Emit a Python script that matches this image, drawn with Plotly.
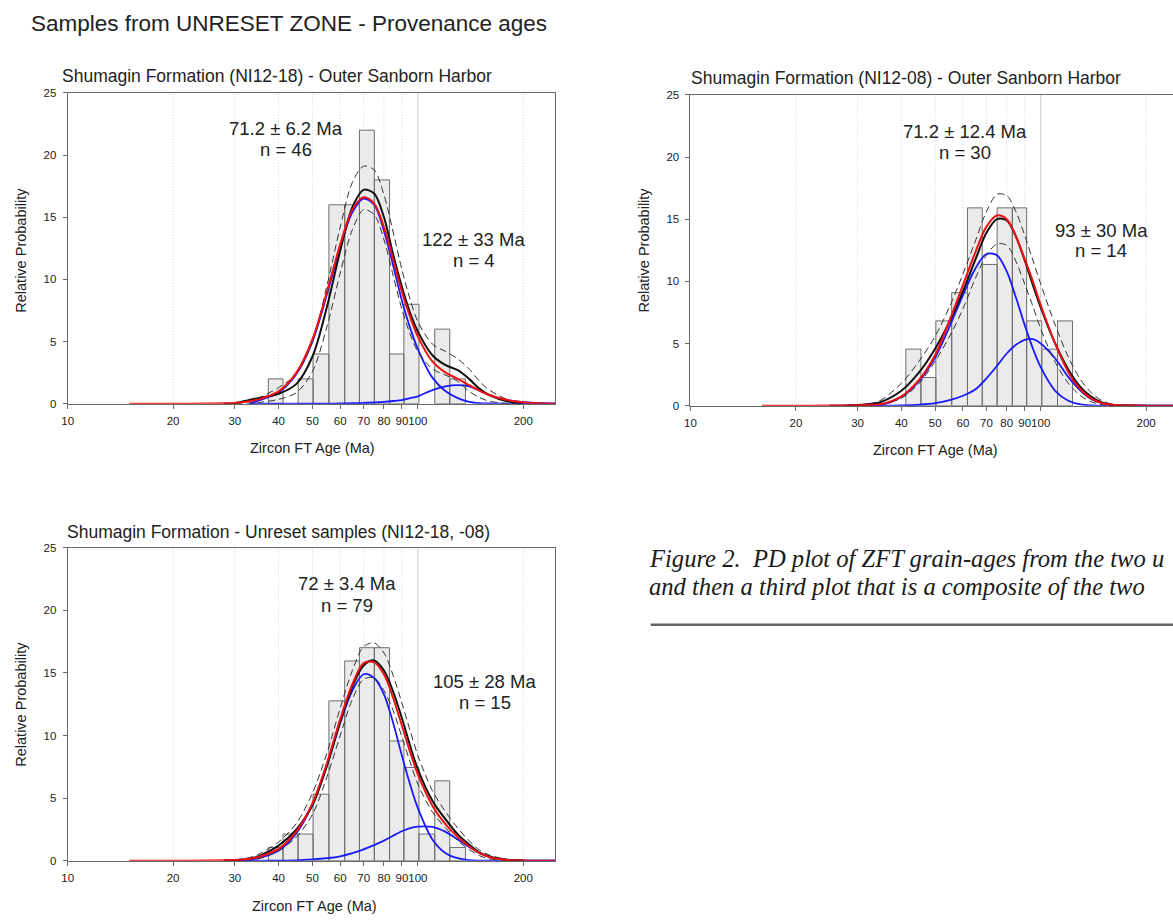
import plotly.graph_objects as go

W, H = 1173, 920

# ---------------- data ----------------
tick_vals = [10, 20, 30, 40, 50, 60, 70, 80, 90, 100, 200]
tick_text = ["10", "20", "30", "40", "50", "60", "70", "80", "90", "100", "200"]
grid_dotted = [20, 30, 40, 50, 60, 70, 80, 90, 200]
grid_solid = [100]

bin_edges = [37.4, 41.2, 45.5, 50.2, 55.7, 61.8, 68.1, 75.1, 83.0, 91.2, 100.7, 111.7, 123.3, 136.7]
hist_ni1218 = [2, 0, 2, 4, 16, 16, 22, 18, 4, 8, 0, 6, 2]
hist_ni1208 = [0, 4.55, 2.27, 6.82, 9.09, 15.91, 11.36, 15.91, 15.91, 6.82, 4.55, 6.82, 0]
hist_all = [1.06, 2.13, 2.13, 5.32, 12.77, 15.96, 17.02, 17.02, 9.57, 7.45, 2.13, 6.38, 1.06]

ages_a = [15, 20, 25, 28, 30, 33, 35, 40, 45, 50, 55, 60, 65, 70, 75, 80, 85, 90, 95, 100,
          110, 120, 130, 140, 150, 160, 180, 200, 220, 260]
ages_b = [16, 20, 25, 28, 30, 33, 35, 40, 45, 50, 55, 60, 65, 70, 75, 80, 85, 90, 95, 100,
          110, 120, 130, 140, 150, 160, 180, 200, 220, 260]

# Panel 1: NI12-18
red_1 = [0, 0, 0.01, 0.03, 0.06, 0.2, 0.35, 1.0, 2.5, 5.2, 9.0, 12.8, 15.6, 16.6, 16.1, 14.2, 11.6, 9.0,
         7.0, 5.4, 3.4, 2.5, 2.0, 1.5, 1.05, 0.7, 0.3, 0.12, 0.04, 0]
blue1_1 = [None, None, None, None, None, 0, 0.25, 0.9, 2.4, 5.0, 8.8, 12.6, 15.4, 16.5, 16.0, 13.9, 11.1,
           8.3, 6.1, 4.4, 2.1, 1.0, 0.45, 0.15, 0.05, 0.02, 0, 0, 0, 0]
blue2_1 = [None, None, None, None, None, 0, 0, 0, 0, 0.01, 0.01, 0.02, 0.04, 0.07, 0.1, 0.15, 0.22, 0.3,
           0.45, 0.6, 1.1, 1.4, 1.5, 1.4, 1.05, 0.7, 0.3, 0.12, 0.04, 0]
black_1 = [None, None, None, 0, 0.05, 0.3, 0.45, 0.8, 1.6, 3.8, 7.8, 12.3, 15.8, 17.2, 16.9, 15.0, 12.0,
           9.4, 7.3, 5.8, 3.9, 3.1, 2.7, 2.0, 1.2, 0.7, 0.2, 0.03, None, None]
upper_1 = [None, None, None, 0, 0.05, 0.2, 0.45, 1.3, 2.4, 5.0, 9.5, 14.2, 17.8, 19.1, 18.8, 16.8, 13.8,
           10.8, 8.4, 6.6, 4.8, 4.2, 3.6, 2.8, 1.8, 1.1, 0.35, 0.08, None, None]
lower_1 = [None, None, None, 0, 0.01, 0.05, 0.1, 0.35, 0.9, 2.6, 6.2, 10.5, 14.0, 15.6, 15.2, 13.2, 10.3,
           7.6, 5.6, 4.2, 2.8, 2.3, 1.8, 1.0, 0.5, 0.2, 0.03, 0, None, None]

# Panel 2: NI12-08
red_2 = [0, 0, 0.01, 0.02, 0.04, 0.08, 0.12, 0.75, 2.1, 4.1, 6.9, 9.7, 12.3, 14.4, 15.3, 15.0, 13.6, 11.8,
         10.0, 8.1, 5.0, 2.7, 1.3, 0.55, 0.2, 0.07, 0.01, 0, 0, 0]
blue1_2 = [None, None, None, 0, 0, 0.02, 0.06, 0.7, 2.0, 3.9, 6.4, 8.9, 11.0, 12.2, 12.1, 10.8, 8.7, 6.5,
           4.6, 3.1, 1.2, 0.4, 0.1, 0.02, 0, 0, 0, 0, 0, 0]
blue2_2 = [None, None, None, 0, 0, 0, 0, 0.02, 0.08, 0.2, 0.45, 0.8, 1.3, 2.2, 3.2, 4.2, 4.9, 5.3,
           5.35, 5.0, 3.8, 2.3, 1.2, 0.5, 0.2, 0.07, 0.01, 0, 0, 0]
black_2 = [None, None, 0, 0.02, 0.05, 0.15, 0.3, 1.2, 2.7, 4.6, 6.8, 9.2, 11.7, 13.9, 15.0, 14.9, 13.6,
           11.7, 9.7, 7.9, 5.0, 2.9, 1.5, 0.7, 0.25, 0.08, 0.01, 0, None, None]
upper_2 = [None, None, None, 0, 0.04, 0.2, 0.45, 1.8, 3.6, 5.6, 8.0, 10.6, 13.2, 15.6, 17.0, 16.9, 15.6,
           13.7, 11.7, 9.8, 6.5, 3.9, 2.1, 1.0, 0.4, 0.12, 0, None, None, None]
lower_2 = [None, None, None, 0, 0.01, 0.03, 0.1, 0.6, 1.8, 3.6, 5.6, 7.8, 10.2, 12.1, 13.0, 12.9, 11.6,
           9.8, 8.0, 6.2, 3.5, 1.8, 0.8, 0.3, 0.08, 0.02, 0, None, None, None]

# Panel 3: composite
red_3 = [0, 0, 0.01, 0.03, 0.05, 0.15, 0.3, 0.95, 2.35, 4.6, 7.8, 11.3, 14.1, 15.8, 15.85, 14.9, 13.0, 10.8,
         8.7, 6.9, 4.4, 2.9, 1.9, 1.15, 0.6, 0.3, 0.06, 0.01, 0, 0]
blue1_3 = [None, None, None, 0, 0, 0.08, 0.2, 0.8, 2.2, 4.5, 7.6, 11.0, 13.6, 14.9, 14.6, 13.3, 11.0, 8.4,
           6.1, 4.2, 1.7, 0.6, 0.2, 0.05, 0.01, 0, 0, 0, 0, 0]
blue2_3 = [None, None, None, 0, 0, 0, 0, 0.01, 0.03, 0.1, 0.2, 0.35, 0.6, 0.9, 1.25, 1.6, 2.0, 2.35,
           2.6, 2.72, 2.7, 2.3, 1.7, 1.1, 0.6, 0.3, 0.06, 0.01, 0, 0]
black_3 = [None, None, None, 0, 0.03, 0.15, 0.35, 1.2, 2.5, 4.45, 7.6, 11.1, 13.9, 15.6, 16.0, 15.2, 13.5,
           11.4, 9.2, 7.3, 4.8, 3.3, 2.1, 1.3, 0.65, 0.34, 0.08, 0.01, None, None]
upper_3 = [None, None, None, 0, 0.05, 0.25, 0.5, 1.5, 3.0, 5.4, 8.6, 12.2, 15.2, 17.1, 17.4, 16.6, 14.8,
           12.6, 10.4, 8.4, 5.6, 3.9, 2.6, 1.6, 0.85, 0.45, 0.1, 0.02, None, None]
lower_3 = [None, None, None, 0, 0.01, 0.05, 0.15, 0.8, 1.9, 3.7, 6.7, 10.0, 12.9, 14.5, 14.6, 13.6, 12.0,
           9.9, 7.9, 6.1, 3.9, 2.6, 1.6, 0.9, 0.4, 0.15, 0.02, 0, None, None]

main_title = "Samples from UNRESET ZONE - Provenance ages"
titles = ["Shumagin Formation (NI12-18) - Outer Sanborn Harbor",
          "Shumagin Formation (NI12-08) - Outer Sanborn Harbor",
          "Shumagin Formation - Unreset samples (NI12-18, -08)"]
peak_labels = [["71.2 ± 6.2 Ma", "n = 46", "122 ± 33 Ma", "n = 4"],
               ["71.2 ± 12.4 Ma", "n = 30", "93 ± 30 Ma", "n = 14"],
               ["72 ± 3.4 Ma", "n = 79", "105 ± 28 Ma", "n = 15"]]
caption_lines = ["<i>Figure 2.  PD plot of ZFT grain-ages from the two u</i>",
                 "<i>and then a third plot that is a composite of the two</i>"]

# ---------------- helpers ----------------
def px(x):
    return x / W


def py(y):
    return 1 - y / H


FONT = "Arial, Liberation Sans, sans-serif"
SERIF = "Liberation Serif, DejaVu Serif, serif"
AX_COL = "#6a6a6a"
BAR_FILL = "#ebebeb"
BAR_LINE = "#6e6e6e"

fig = go.Figure()

panels = [
    dict(ages=ages_a, hist=hist_ni1218, red=red_1, b1=blue1_1, b2=blue2_1, blk=black_1, up=upper_1, lo=lower_1),
    dict(ages=ages_b, hist=hist_ni1208, red=red_2, b1=blue1_2, b2=blue2_2, blk=black_2, up=upper_2, lo=lower_2),
    dict(ages=ages_a, hist=hist_all, red=red_3, b1=blue1_3, b2=blue2_3, blk=black_3, up=upper_3, lo=lower_3),
]

for i, p in enumerate(panels):
    xa = "x" if i == 0 else f"x{i+1}"
    ya = "y" if i == 0 else f"y{i+1}"
    gx, gy = [], []
    for v in grid_dotted:
        gx += [v, v, None]
        gy += [0, 25, None]
    fig.add_trace(go.Scatter(x=gx, y=gy, mode="lines", xaxis=xa, yaxis=ya,
                             line=dict(color="#d2d2d2", width=1, dash="1px,2px"),
                             hoverinfo="skip", showlegend=False))
    sx, sy = [], []
    for v in grid_solid:
        sx += [v, v, None]
        sy += [0, 25, None]
    fig.add_trace(go.Scatter(x=sx, y=sy, mode="lines", xaxis=xa, yaxis=ya,
                             line=dict(color="#cccccc", width=1),
                             hoverinfo="skip", showlegend=False))
    bx, by = [], []
    for k, h in enumerate(p["hist"]):
        if h <= 0:
            continue
        x0, x1 = bin_edges[k], bin_edges[k + 1]
        bx += [x0, x0, x1, x1, x0, None]
        by += [0, h, h, 0, 0, None]
    fig.add_trace(go.Scatter(x=bx, y=by, mode="lines", fill="toself", fillcolor=BAR_FILL,
                             line=dict(color=BAR_LINE, width=1), xaxis=xa, yaxis=ya,
                             hoverinfo="skip", showlegend=False))
    ln = dict(shape="spline", smoothing=0.9)
    for key in ("b1", "b2"):
        fig.add_trace(go.Scatter(x=p["ages"], y=p[key], mode="lines", xaxis=xa, yaxis=ya,
                                 line=dict(color="#1a1aff", width=1.8, **ln), showlegend=False))
    for key in ("up", "lo"):
        fig.add_trace(go.Scatter(x=p["ages"], y=p[key], mode="lines", xaxis=xa, yaxis=ya,
                                 line=dict(color="#333333", width=1, dash="7px,4px", **ln), showlegend=False))
    fig.add_trace(go.Scatter(x=p["ages"], y=p["blk"], mode="lines", xaxis=xa, yaxis=ya,
                             line=dict(color="#111111", width=2, **ln), showlegend=False))
    fig.add_trace(go.Scatter(x=p["ages"], y=p["red"], mode="lines", xaxis=xa, yaxis=ya,
                             line=dict(color="#f01010", width=2, **ln), showlegend=False))

# ---------------- axes ----------------
geom = [  # left, right, top, bottom (pixels), log x max, mirror y
    (62, 552, 88, 403, 2.392, True),
    (688, 1173, 90, 405, 1 + (1173 - 688) / 352.0, False),
    (62, 552, 549, 866, 2.392, True),
]
layout_axes = {}
for i, (l, r, t, b, xmax, mir) in enumerate(geom):
    sfx = "" if i == 0 else str(i + 1)
    layout_axes["xaxis" + sfx] = dict(
        type="log", range=[1, xmax], domain=[px(l), px(r)], anchor="y" + sfx,
        tickvals=tick_vals, ticktext=tick_text, tickangle=0, ticks="outside", ticklen=4, tickwidth=1,
        tickcolor=AX_COL, showline=True, linecolor=AX_COL, linewidth=1, mirror=True,
        showgrid=False, zeroline=False, tickfont=dict(family=FONT, size=11.5, color="#222"),
        ticklabelstandoff=2)
    layout_axes["yaxis" + sfx] = dict(
        range=[0, 25], domain=[py(b), py(t)], anchor="x" + sfx,
        tickvals=[0, 5, 10, 15, 20, 25], ticks="outside", ticklen=4, tickwidth=1,
        tickcolor=AX_COL, showline=True, linecolor=AX_COL, linewidth=1, mirror=mir,
        showgrid=False, zeroline=False, tickfont=dict(family=FONT, size=11.5, color="#222"),
        ticklabelstandoff=4)

fig.update_layout(width=W, height=H, margin=dict(l=0, r=0, t=0, b=0),
                  paper_bgcolor="white", plot_bgcolor="white", **layout_axes)

ann = []


def add_text(x, y, text, size, xanchor="left", yanchor="middle", angle=0, color="#222", family=FONT):
    ann.append(dict(x=px(x), y=py(y), xref="paper", yref="paper", text=text, showarrow=False,
                    xanchor=xanchor, yanchor=yanchor, textangle=angle,
                    font=dict(family=family, size=size, color=color)))


add_text(23, 18, main_title, 22.5)
title_pos = [(54, 71), (687, 73), (59, 533)]
for (x, y), t in zip(title_pos, titles):
    add_text(x, y, t, 17.5)
for x, y in [(15, 247), (641, 247), (15, 707)]:
    add_text(x, y, "Relative Probability", 14.5, xanchor="center", angle=-90)
for x, y in [(308, 448), (934, 450), (310, 912)]:
    add_text(x, y, "Zircon FT Age (Ma)", 14.5, xanchor="center")
label_pos = [[(281, 124), (281, 145), (470, 237), (470, 258)],
             [(964, 127), (964, 148), (1101, 227), (1101, 248)],
             [(343, 585), (343, 607), (481, 684), (481, 706)]]
for pos, texts in zip(label_pos, peak_labels):
    for (x, y), t in zip(pos, texts):
        add_text(x, y, t, 18.5, xanchor="center")

add_text(644, 560, caption_lines[0], 24.6, family=SERIF, color="#1a1a1a")
add_text(644, 588, caption_lines[1], 24.6, family=SERIF, color="#1a1a1a")

fig.update_layout(annotations=ann,
                  shapes=[dict(type="line", xref="paper", yref="paper", x0=px(648), x1=1.0,
                               y0=py(627), y1=py(627), line=dict(color="#666", width=2.5))])

fig.write_html("out.html", config={"displayModeBar": False},
               post_script="document.body.style.margin='0px';")
